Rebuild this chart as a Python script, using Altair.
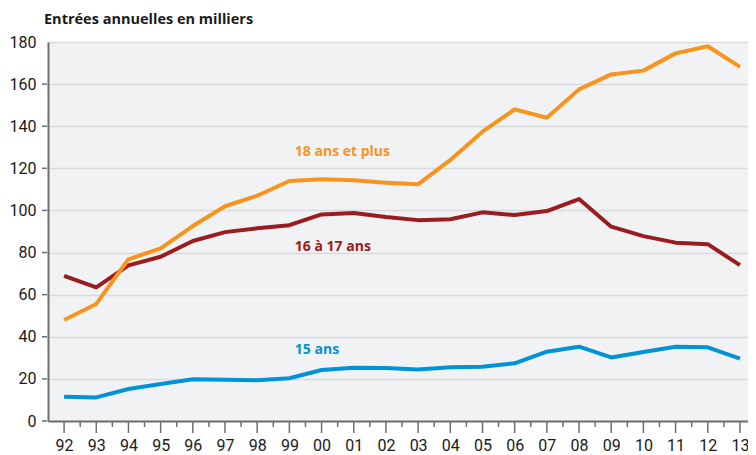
import altair as alt
import pandas as pd

years = [1992, 1993, 1994, 1995, 1996, 1997, 1998, 1999, 2000, 2001, 2002,
         2003, 2004, 2005, 2006, 2007, 2008, 2009, 2010, 2011, 2012, 2013]
s18 = [48, 55.6, 76.8, 82, 92.6, 102, 107, 114, 114.8, 114.3, 113.2,
       112.4, 124, 137.4, 148, 144, 157.5, 164.6, 166.4, 174.6, 178, 168.2]
s16 = [68.9, 63.5, 73.9, 78, 85.5, 89.7, 91.5, 93, 98.1, 98.8, 96.9,
       95.4, 95.8, 99.1, 97.8, 99.7, 105.4, 92.3, 87.8, 84.7, 84, 74]
s15 = [11.5, 11.2, 15.2, 17.6, 19.8, 19.6, 19.3, 20.3, 24.2, 25.3, 25.2,
       24.5, 25.5, 25.8, 27.4, 32.9, 35.3, 30.2, 32.8, 35.3, 35, 29.6]

series = ["15 ans", "16 à 17 ans", "18 ans et plus"]
colors = ["#0093d6", "#9b1c20", "#f7941e"]
label_x = [1999.17, 1999.17, 1999.17]
label_y = [33.7, 82.6, 127.7]
y_ticks = [0, 20, 40, 60, 80, 100, 120, 140, 160, 180]

rows = []
for name, vals in zip(series, [s15, s16, s18]):
    for yr, v in zip(years, vals):
        rows.append({"year": yr, "value": v, "serie": name})
df = pd.DataFrame(rows)
lab = pd.DataFrame({"serie": series, "x": label_x, "y": label_y})

minor_vals = [y + 0.5 for y in years[:-1]]
major_df = pd.DataFrame({"t": years})
minor_df = pd.DataFrame({"t": minor_vals})
yt_df = pd.DataFrame({"v": y_ticks[:-1]})

W, H = 700, 379
TICK = "#6d6e71"

xscale = alt.Scale(domain=[1991.5, 2013.25], nice=False, zero=False)
yscale = alt.Scale(domain=[0, 180], nice=False)
color = alt.Color("serie:N", scale=alt.Scale(domain=series, range=colors), legend=None)

xaxis = alt.Axis(
    values=years, orient="bottom", ticks=False,
    labelExpr="substring(toString(datum.value), 2)",
    domainColor="#6d6e71", domainWidth=2,
    labelFont="Roboto", labelFontSize=16, labelColor="#1a1a1a", labelPadding=16,
    grid=False, title=None, labelFlush=False, labelOverlap=False,
)
yaxis = alt.Axis(
    values=y_ticks, title=None, ticks=False,
    domainColor="#6d6e71", domainWidth=2,
    labelFont="Roboto", labelFontSize=16, labelColor="#1a1a1a", labelPadding=12,
    grid=True, gridColor="#d9dadc", gridWidth=1.5,
    labelFlush=False, labelOverlap=False,
)

X = lambda f: alt.X(f, scale=xscale, axis=xaxis)
Y = lambda f: alt.Y(f, scale=yscale, axis=yaxis)

lines = alt.Chart(df).mark_line(strokeWidth=4, strokeJoin="round").encode(
    x=X("year:Q"), y=Y("value:Q"), color=color,
)

labels = alt.Chart(lab).mark_text(
    align="left", baseline="middle", font="Open Sans", fontSize=14, fontWeight="bold"
).encode(
    x=X("x:Q"), y=Y("y:Q"), text="serie:N", color=color,
)

major_ticks = alt.Chart(major_df).mark_rule(color=TICK, strokeWidth=1.5).encode(
    x=X("t:Q"), y=alt.value(H + 1), y2=alt.value(H + 12),
)
minor_ticks = alt.Chart(minor_df).mark_rule(color=TICK, strokeWidth=1.5).encode(
    x=X("t:Q"), y=alt.value(H + 1), y2=alt.value(H + 6),
)
y_tick_marks = alt.Chart(yt_df).mark_rule(color=TICK, strokeWidth=1.5).encode(
    y=Y("v:Q"), x=alt.value(-6), x2=alt.value(-1),
)

chart = alt.layer(lines, labels, major_ticks, minor_ticks, y_tick_marks).properties(
    width=W, height=H,
    autosize=alt.AutoSizeParams(type="none"),
    padding={"left": 40, "top": 34, "right": 0, "bottom": 34},
    title=alt.TitleParams(
        text="Entrées annuelles en milliers", anchor="start", frame="group",
        offset=-4, baseline="alphabetic", dx=-4, font="Open Sans",
        fontSize=14.5, fontWeight="bold", color="#1a1a1a",
    ),
).configure_view(fill="#f1f2f4", strokeWidth=0)

chart.save("out.html", embed_options={"renderer": "svg", "actions": False})
